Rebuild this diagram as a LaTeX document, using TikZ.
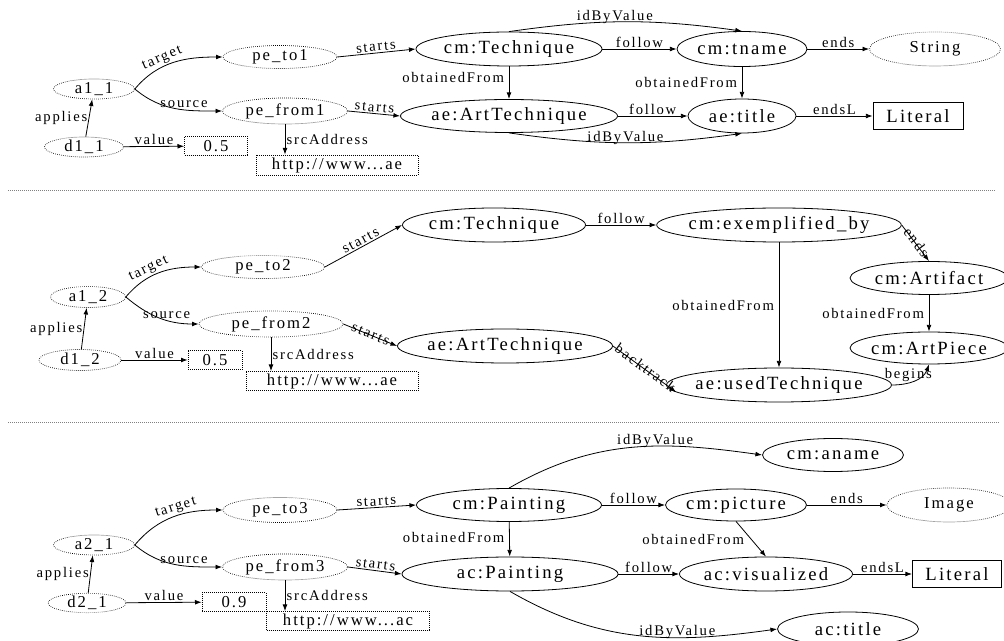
\documentclass[tikz,border=0pt]{standalone}
\usepackage{fontspec}
\setmainfont{Liberation Serif}[LetterSpace=12]
\usepackage{tikz}
\usetikzlibrary{arrows.meta,shapes.geometric}

\tikzset{sz/.style 2 args={minimum width=0.75pt*#1, minimum height=0.75pt*#2}}

\begin{document}
\begin{tikzpicture}[
    x=0.75pt, y=0.75pt, line width=0.6pt,
    elem/.style={draw, ellipse, inner xsep=-3pt, inner ysep=0pt, font=\fontsize{14}{16}\selectfont},
    inst/.style={draw, ellipse, densely dotted, line width=0.5pt, inner xsep=-1pt, inner ysep=0pt, font=\fontsize{12.5}{14}\selectfont},
    valbox/.style={draw, rectangle, densely dotted, line width=0.5pt, inner sep=0pt, font=\fontsize{12.5}{14}\selectfont},
    litbox/.style={draw, rectangle, inner sep=0pt, font=\fontsize{14}{16}\selectfont},
    lbl/.style={font=\fontsize{11}{13}\selectfont, inner sep=1pt},
    arrow/.style={->, >={Latex[length=5pt, width=3.6pt]}},
    sep/.style={gray, densely dotted, line width=0.5pt}
]
\useasboundingbox (0,0) rectangle (1004,-641);

% first mapping
\node[inst, sz={81}{20}] (a11) at (94,-89) {a1\_1};
\node[inst, sz={79}{20}] (d11) at (84,-147) {d1\_1};
\node[valbox, sz={63}{19}] (v11) at (216,-146) {0.5};
\node[inst, sz={114}{23}] (pt1) at (280,-57) {pe\_to1};
\node[inst, sz={125}{26}] (pf1) at (285,-111) {pe\_from1};
\node[valbox, sz={162}{20}] (src1) at (337,-165) {http://www...ae};
\node[elem, sz={186}{34}] (cmtech1) at (509,-49) {cm:Technique};
\node[elem, sz={130}{35}] (cmtname) at (742,-49) {cm:tname};
\node[inst, sz={131}{34}] (string) at (935,-49) {String};
\node[elem, sz={217}{33}] (aeart1) at (509,-116) {ae:ArtTechnique};
\node[elem, sz={108}{34}] (aetitle) at (742,-116) {ae:title};
\node[litbox, sz={90}{27}] (lit1) at (918,-116) {Literal};

\draw[arrow] (d11) -- node[lbl, left] {applies} (a11);
\draw[arrow] (d11) -- node[lbl, above] {value} (v11);
\draw[arrow] (a11.east) to[out=50, in=180] node[lbl, sloped, above, pos=0.4] {target} (pt1.west);
\draw[arrow] (a11.east) to[out=-40, in=180] node[lbl, above, pos=0.6] {source} (pf1.west);
\draw[arrow] (pf1.south) -- node[lbl, right] {srcAddress} (pf1.south |- src1.north);
\draw[arrow] (pt1.east) -- node[lbl, sloped, above] {starts} (cmtech1.west);
\draw[arrow] (pf1.east) -- node[lbl, sloped, above] {starts} (aeart1.west);
\draw[arrow] (cmtech1) -- node[lbl, above] {follow} (cmtname);
\draw[arrow] (cmtname) -- node[lbl, above] {ends} (string);
\draw[arrow] (aeart1) -- node[lbl, above] {follow} (aetitle);
\draw[arrow] (aetitle) -- node[lbl, above] {endsL} (lit1);
\draw[arrow] (cmtech1) -- node[lbl, left=2.5pt, pos=0.35] {obtainedFrom} (aeart1);
\draw[arrow] (cmtname) -- node[lbl, left=2.5pt] {obtainedFrom} (aetitle);
\draw[arrow] (cmtech1.north) to[bend left=8] node[lbl, above=-2.5pt, pos=0.45] {idByValue} (cmtname.north);
\draw[arrow] (aeart1.south) to[bend right=8] node[lbl, above=-2.5pt] {idByValue} (aetitle.south);

\draw[sep] (8,-190) -- (996,-190);

% second mapping
\node[inst, sz={75}{21}] (a12) at (88,-297) {a1\_2};
\node[inst, sz={82}{21}] (d12) at (80,-360) {d1\_2};
\node[valbox, sz={54}{19}] (v12) at (215,-360) {0.5};
\node[inst, sz={123}{23}] (pt2) at (263,-267) {pe\_to2};
\node[inst, sz={144}{26}] (pf2) at (271,-324) {pe\_from2};
\node[valbox, sz={172}{19}] (src2) at (332,-381) {http://www...ae};
\node[elem, sz={183}{34}] (cmtech2) at (494,-225) {cm:Technique};
\node[elem, sz={236}{34}] (cmexby) at (779,-225) {cm:exemplified\_by};
\node[elem, sz={158}{33}] (cmartif) at (929,-278) {cm:Artifact};
\node[elem, sz={158}{32}] (cmpiece) at (929,-348) {cm:ArtPiece};
\node[elem, sz={215}{34}] (aeart2) at (505,-346) {ae:ArtTechnique};
\node[elem, sz={224}{34}] (aeused) at (779,-385) {ae:usedTechnique};

\draw[arrow] (d12) -- node[lbl, left] {applies} (a12);
\draw[arrow] (d12) -- node[lbl, above] {value} (v12);
\draw[arrow] (a12.east) to[out=50, in=180] node[lbl, sloped, above, pos=0.4] {target} (pt2.west);
\draw[arrow] (a12.east) to[out=-40, in=180] node[lbl, above, pos=0.6] {source} (pf2.west);
\draw[arrow] (pf2.south) -- node[lbl, right] {srcAddress} (pf2.south |- src2.north);
\draw[arrow] (pt2.east) -- node[lbl, sloped, above] {starts} (cmtech2.west);
\draw[arrow] (pf2.east) -- node[lbl, sloped, above=-4pt] {starts} (aeart2.west);
\draw[arrow] (cmtech2) -- node[lbl, above] {follow} (cmexby);
\draw[arrow] (cmexby.east) -- node[lbl, sloped, above=-4pt] {ends} (cmartif.north);
\draw[arrow] (cmexby) -- node[lbl, left=2.5pt] {obtainedFrom} (aeused);
\draw[arrow] (cmartif) -- node[lbl, left=2.5pt] {obtainedFrom} (cmpiece);
\draw[arrow] (aeart2.east) -- node[lbl, sloped, above=-4pt] {backtrack} (aeused.184);
\draw[arrow] (aeused.east) to[out=0, in=-110] node[lbl, above, pos=0.35] {begins} (cmpiece.south);

\draw[sep] (8,-422) -- (1000,-422);

% third mapping
\node[inst, sz={81}{20}] (a21) at (94,-545) {a2\_1};
\node[inst, sz={78}{19}] (d21) at (87,-603) {d2\_1};
\node[valbox, sz={64}{19}] (v21) at (234,-602) {0.9};
\node[inst, sz={114}{25}] (pt3) at (280,-510) {pe\_to3};
\node[inst, sz={125}{26}] (pf3) at (285,-567) {pe\_from3};
\node[valbox, sz={163}{19}] (src3) at (348,-621) {http://www...ac};
\node[elem, sz={185}{33}] (cmpaint) at (509,-505) {cm:Painting};
\node[elem, sz={216}{34}] (acpaint) at (510,-574) {ac:Painting};
\node[elem, sz={141}{33}] (cmaname) at (833,-455) {cm:aname};
\node[elem, sz={141}{32}] (cmpict) at (736,-505) {cm:picture};
\node[inst, sz={124}{34}] (image) at (949,-505) {Image};
\node[elem, sz={173}{34}] (acvis) at (766,-574) {ac:visualized};
\node[litbox, sz={89}{27}] (lit2) at (957,-574) {Literal};
\node[elem, sz={141}{34}] (actitle) at (848,-629) {ac:title};

\draw[arrow] (d21) -- node[lbl, left] {applies} (a21);
\draw[arrow] (d21) -- node[lbl, above] {value} (v21);
\draw[arrow] (a21.east) to[out=50, in=180] node[lbl, sloped, above, pos=0.55] {target} (pt3.west);
\draw[arrow] (a21.east) to[out=-40, in=180] node[lbl, above, pos=0.6] {source} (pf3.west);
\draw[arrow] (pf3.south) -- node[lbl, right] {srcAddress} (pf3.south |- src3.north);
\draw[arrow] (pt3.east) -- node[lbl, sloped, above] {starts} (cmpaint.west);
\draw[arrow] (pf3.east) -- node[lbl, sloped, above] {starts} (acpaint.west);
\draw[arrow] (cmpaint) -- node[lbl, left=2.5pt, pos=0.45] {obtainedFrom} (acpaint);
\draw[arrow] (cmpaint) -- node[lbl, above] {follow} (cmpict);
\draw[arrow] (cmpict) -- node[lbl, above] {ends} (image);
\draw[arrow] (acpaint) -- node[lbl, above] {follow} (acvis);
\draw[arrow] (acvis) -- node[lbl, above] {endsL} (lit2);
\draw[arrow] (cmpict.south) -- node[lbl, left=4pt] {obtainedFrom} (acvis.north);
\draw[arrow] (cmpaint.north) to[out=30, in=172] node[lbl, above=-2.5pt, pos=0.6] {idByValue} (cmaname.west);
\draw[arrow] (acpaint.south) to[out=-30, in=188] node[lbl, above=-2.5pt, pos=0.65] {idByValue} (actitle.west);

\end{tikzpicture}
\end{document}
